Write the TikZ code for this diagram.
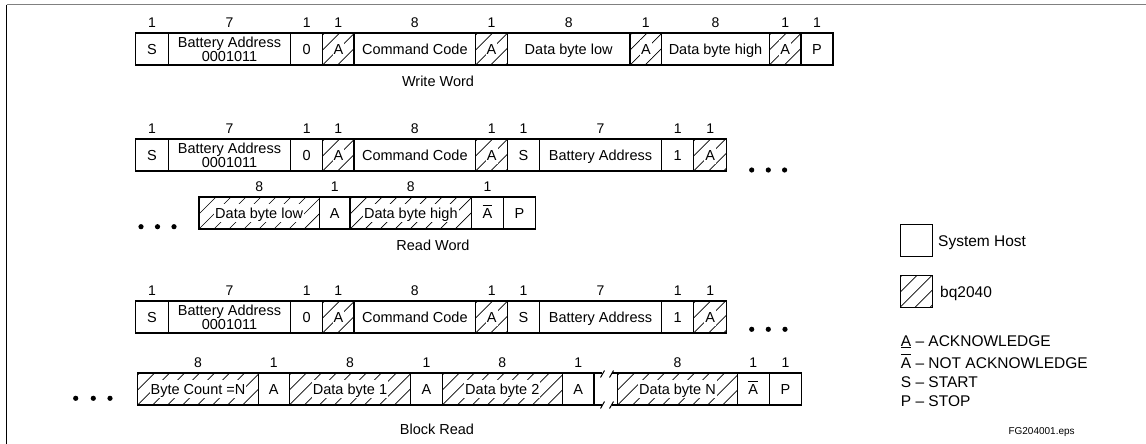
\documentclass[tikz,border=0pt]{standalone}
\usepackage{fontspec}
\setmainfont{Liberation Sans}
\newcommand\Abar{\makebox[0pt][l]{\raisebox{0.86em}{\rule{0.667em}{0.065em}}}A}
\tikzset{
  x=1pt, y=-1pt,
  cellborder/.style={draw=black, line width=1.3pt},
  hatchline/.style={draw=black, line width=0.7pt},
  celltext/.style={font=\fontsize{14.5}{11}\selectfont, align=center, inner sep=1pt},
  oneline/.style={text height=13.4pt, text depth=3pt},
  twoline/.style={},
  bqtext/.style={celltext, fill=white},
  num/.style={font=\fontsize{14}{14}\selectfont, inner sep=0pt},
  caption/.style={font=\fontsize{14.5}{14.5}\selectfont, inner sep=0pt},
  legend/.style={font=\fontsize{15.5}{15.5}\selectfont, inner sep=0pt, anchor=west},
  dot/.style={fill=black, draw=none},
  frame/.style={line width=1.5pt, draw=gray},
  leftframe/.style={line width=1pt, draw=black}
}
\newcommand\hatchbox[4]{%
  \begin{scope}
    \clip (#1,#3) rectangle (#2,{#3+#4});
    \foreach \k in {-3,...,12} \draw[hatchline] ({#1+\k*15},{#3+#4}) -- ++(45,-45);
  \end{scope}}
% [#1 style], #2 name, #3 x1, #4 x2, #5 ytop, #6 text, #7 number
\newcommand\hcell[7][oneline]{%
  \draw[cellborder] (#3,#5) rectangle (#4,{#5+32});
  \node[celltext,#1] (#2) at ({(#3+#4)/2},{#5+16}) {#6};
  \if\relax\detokenize{#7}\relax\else
    \node[num] (#2n) at ({(#3+#4)/2},{#5-10}) {#7};\fi}
\newcommand\bcell[7][oneline]{%
  \hatchbox{#3}{#4}{#5}{32}%
  \draw[cellborder] (#3,#5) rectangle (#4,{#5+32});
  \node[bqtext,#1] (#2) at ({(#3+#4)/2},{#5+16}) {#6};
  \if\relax\detokenize{#7}\relax\else
    \node[num] (#2n) at ({(#3+#4)/2},{#5-10}) {#7};\fi}
\begin{document}
\begin{tikzpicture}
\useasboundingbox (0,0) rectangle (1146,444);
% frame
\coordinate (fl) at (6.7,4.7);
\coordinate (fr) at (1146,4.7);
\coordinate (fb) at (6.7,444);
\draw[frame] (fl) -- (fr);
\draw[leftframe] (fl) -- (fb);

% ---- Write Word ----
\hcell{wS}{135.7}{168.3}{33}{S}{1}
\hcell[twoline]{wBA}{168.3}{290.7}{33}{Battery Address\\0001011}{7}
\hcell{wZ}{290.7}{322.7}{33}{0}{1}
\bcell{wA1}{322.7}{354}{33}{A}{1}
\hcell{wCC}{354}{475.7}{33}{Command Code}{8}
\bcell{wA2}{475.7}{507.3}{33}{A}{1}
\hcell{wDL}{507.3}{630}{33}{Data byte low}{8}
\bcell{wA3}{630}{661.7}{33}{A}{1}
\hcell{wDH}{661.7}{769.3}{33}{Data byte high}{8}
\bcell{wA4}{769.3}{801}{33}{A}{1}
\hcell{wP}{801}{833}{33}{P}{1}
\node[caption] (wcap) at (438,81) {Write Word};

% ---- Read Word ----
\hcell{rS}{135.7}{168.3}{139}{S}{1}
\hcell[twoline]{rBA}{168.3}{290.7}{139}{Battery Address\\0001011}{7}
\hcell{rZ}{290.7}{322.7}{139}{0}{1}
\bcell{rA1}{322.7}{354}{139}{A}{1}
\hcell{rCC}{354}{475.7}{139}{Command Code}{8}
\bcell{rA2}{475.7}{507.7}{139}{A}{1}
\hcell{rS2}{507.7}{539.3}{139}{S}{1}
\hcell{rBA2}{539.3}{661.7}{139}{Battery Address}{7}
\hcell{rOne}{661.7}{693.7}{139}{1}{1}
\bcell{rA3}{693.7}{726.7}{139}{A}{1}
\fill[dot] (751.7,170) circle (2.6) (768.3,170) circle (2.6) (784.6,170) circle (2.6);

\fill[dot] (141,226.7) circle (2.6) (157.5,226.7) circle (2.6) (174,226.7) circle (2.6);
\bcell{rDL}{199}{319.3}{197}{Data byte low}{8}
\hcell{rA4}{319.3}{350}{197}{A}{1}
\bcell{rDH}{350}{471.7}{197}{Data byte high}{8}
\hcell{rNA}{471.7}{503.3}{197}{\Abar}{1}
\hcell{rP}{503.3}{535.7}{197}{P}{}
\node[caption] (rcap) at (433,245) {Read Word};

% ---- Block Read ----
\hcell{bS}{135.7}{168.3}{301}{S}{1}
\hcell[twoline]{bBA}{168.3}{290.7}{301}{Battery Address\\0001011}{7}
\hcell{bZ}{290.7}{322.7}{301}{0}{1}
\bcell{bA1}{322.7}{354}{301}{A}{1}
\hcell{bCC}{354}{475.7}{301}{Command Code}{8}
\bcell{bA2}{475.7}{507.7}{301}{A}{1}
\hcell{bS2}{507.7}{539.3}{301}{S}{1}
\hcell{bBA2}{539.3}{661.7}{301}{Battery Address}{7}
\hcell{bOne}{661.7}{693.7}{301}{1}{1}
\bcell{bA3}{693.7}{726.7}{301}{A}{1}
\fill[dot] (751.7,329.3) circle (2.6) (768.3,329.3) circle (2.6) (785,329.3) circle (2.6);

\fill[dot] (75.7,398.3) circle (2.6) (93.3,398.3) circle (2.6) (110,398.3) circle (2.6);
\bcell{bBC}{137.7}{258.3}{373}{Byte Count =N}{8}
\hcell{bA4}{258.3}{289.3}{373}{A}{1}
\bcell{bD1}{289.3}{410.7}{373}{Data byte 1}{8}
\hcell{bA5}{410.7}{442.3}{373}{A}{1}
\bcell{bD2}{442.3}{562.3}{373}{Data byte 2}{8}
\hcell{bA6}{562.3}{594}{373}{A}{1}
% break in the frame
\coordinate (brT1) at (594,373);
\coordinate (brT2) at (602,373);
\coordinate (brT3) at (611.7,373);
\coordinate (brT4) at (617.7,373);
\coordinate (brB1) at (594,405);
\coordinate (brB2) at (602,405);
\coordinate (brB3) at (611.7,405);
\coordinate (brB4) at (617.7,405);
\draw[cellborder] (brT1) -- (brT2) (brT3) -- (brT4) (brB1) -- (brB2) (brB3) -- (brB4);
\draw[hatchline, line width=1pt] (600.5,377.5) -- (604.5,370.5) (609.5,377.5) -- (613.5,370.5)
  (600.5,408.5) -- (604.5,401.5) (609.5,408.5) -- (613.5,401.5);
\bcell{bDN}{617.7}{737.3}{373}{Data byte N}{8}
\hcell{bNA}{737.3}{769.3}{373}{\Abar}{1}
\hcell{bP}{769.3}{801.7}{373}{P}{1}
\node[caption] (bcap) at (437,429) {Block Read};

% ---- Legend ----
\draw[cellborder, line width=1pt] (900,224) rectangle (932.7,256.7);
\node[legend] (lhost) at (938,242.3) {System Host};
\hatchbox{900}{932.7}{275}{32.3}
\draw[cellborder, line width=1pt] (900,275) rectangle (932.7,307.3);
\node[legend] (lbq) at (940,293.3) {bq2040};
\node[legend] (lack) at (900.7,341.7) {\underline{A} – ACKNOWLEDGE};
\node[legend] (lnack) at (900.7,361.7) {\Abar{} – NOT ACKNOWLEDGE};
\node[legend] (lstart) at (900.7,381.7) {S – START};
\node[legend] (lstop) at (900.7,400.7) {P – STOP};
\node[legend, font=\fontsize{10}{10}\selectfont] (lfile) at (1008.3,431.7) {FG204001.eps};
\end{tikzpicture}
\end{document}
